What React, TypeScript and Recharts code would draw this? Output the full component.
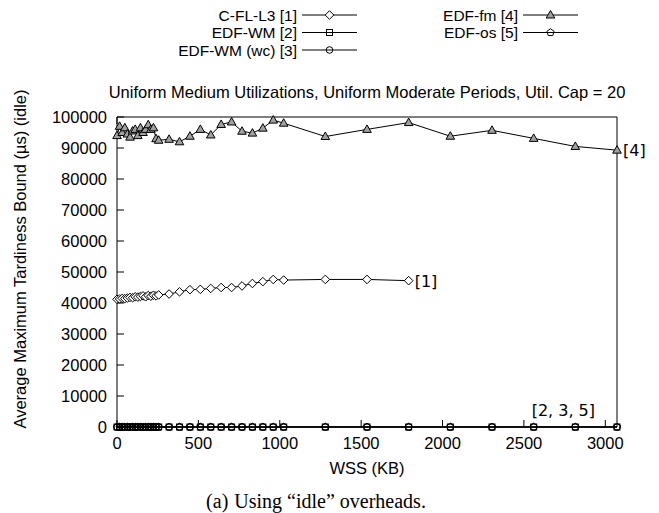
import React from "react";
import { LineChart, Line, XAxis, YAxis, LabelList } from "recharts";

// WSS sizes (KB) sampled by the experiment
const wss = [
  0, 16, 32, 48, 64, 80, 96, 112, 128, 144, 160, 176, 192, 208, 224, 240, 256,
  320, 384, 448, 512, 576, 640, 704, 768, 832, 896, 960, 1024,
  1280, 1536, 1792, 2048, 2304, 2560, 2816, 3072,
];

// C-FL-L3 stops at 1792 KB
const cflL3 = [
  41200, 41300, 41500, 41400, 41600, 41800, 41700, 42000, 41900, 42100, 42300, 42000, 42400, 42200, 42500, 42300, 42600,
  42900, 43600, 44300, 44400, 44700, 45000, 45000, 45500, 46300, 46900, 47600, 47400,
  47600, 47600, 47200,
];

const edfWm = [
  0, 0, 0, 0, 0, 0, 0, 0, 0, 0, 0, 0, 0, 0, 0, 0, 0,
  0, 0, 0, 0, 0, 0, 0, 0, 0, 0, 0, 0,
  0, 0, 0, 0, 0, 0, 0, 0,
];

const edfWmWc = [
  0, 0, 0, 0, 0, 0, 0, 0, 0, 0, 0, 0, 0, 0, 0, 0, 0,
  0, 0, 0, 0, 0, 0, 0, 0, 0, 0, 0, 0,
  0, 0, 0, 0, 0, 0, 0, 0,
];

const edfFm = [
  94000, 97000, 95000, 96500, 94500, 93500, 95500, 96000, 94000, 96500, 95000, 96000, 97500, 96000, 96500, 93000, 92500,
  92800, 92000, 93800, 96000, 94200, 97600, 98400, 95400, 94800, 96400, 99000, 98000,
  93700, 96000, 98200, 93800, 95700, 93100, 90500, 89300,
];

const edfOs = [
  0, 0, 0, 0, 0, 0, 0, 0, 0, 0, 0, 0, 0, 0, 0, 0, 0,
  0, 0, 0, 0, 0, 0, 0, 0, 0, 0, 0, 0,
  0, 0, 0, 0, 0, 0, 0, 0,
];

const seriesNames = ["C-FL-L3 [1]", "EDF-WM [2]", "EDF-WM (wc) [3]", "EDF-fm [4]", "EDF-os [5]"];
const xTicks = [0, 500, 1000, 1500, 2000, 2500, 3000];
const yTicks = [0, 10000, 20000, 30000, 40000, 50000, 60000, 70000, 80000, 90000, 100000];

const data = wss.map((w, i) => ({
  wss: w,
  cfl: i < cflL3.length ? cflL3[i] : null,
  wm: edfWm[i],
  wmwc: edfWmWc[i],
  fm: edfFm[i],
  os: edfOs[i],
}));

const SANS = '"Liberation Sans", Arial, Helvetica, sans-serif';
const MONO = '"DejaVu Sans", sans-serif';
const FS = 16.5;
const TICK = 7;

type M = { cx: number; cy: number };

const Diamond = ({ cx, cy }: M) => (
  <polygon
    points={`${cx},${cy - 4.3} ${cx + 4.3},${cy} ${cx},${cy + 4.3} ${cx - 4.3},${cy}`}
    fill="#fff"
    stroke="#000"
    strokeWidth={1}
  />
);
const Square = ({ cx, cy }: M) => (
  <rect x={cx - 3} y={cy - 3} width={6} height={6} fill="none" stroke="#000" strokeWidth={1} />
);
const Circle = ({ cx, cy }: M) => <circle cx={cx} cy={cy} r={3.3} fill="none" stroke="#000" strokeWidth={1} />;
const Triangle = ({ cx, cy }: M) => (
  <polygon
    points={`${cx},${cy - 4.5} ${cx + 4.3},${cy + 3} ${cx - 4.3},${cy + 3}`}
    fill="#a0a0a0"
    stroke="#000"
    strokeWidth={1}
  />
);
const Pentagon = ({ cx, cy }: M) => {
  const pts = [0, 1, 2, 3, 4]
    .map((k) => {
      const a = -Math.PI / 2 + (k * 2 * Math.PI) / 5;
      return `${cx + 3.8 * Math.cos(a)},${cy + 3.8 * Math.sin(a)}`;
    })
    .join(" ");
  return <polygon points={pts} fill="none" stroke="#000" strokeWidth={1} />;
};

const markers = [Diamond, Square, Circle, Triangle, Pentagon];

function dotOf(Mk: (p: M) => React.ReactElement) {
  return (p: any) => {
    if (p.cy == null || p.cx == null) return <g key={`n-${p.index}`} />;
    return (
      <g key={`m-${p.index}`}>
        <Mk cx={p.cx} cy={p.cy} />
      </g>
    );
  };
}

// gnuplot style: ticks point into the plot on all four sides
const BottomTick = (p: any) => (
  <g>
    <line x1={p.x} x2={p.x} y1={p.y} y2={p.y - TICK} stroke="#000" />
    <text x={p.x} y={p.y + 22} textAnchor="middle" fontFamily={SANS} fontSize={FS} fill="#000">
      {p.payload.value}
    </text>
  </g>
);
const TopTick = (p: any) => <line x1={p.x} x2={p.x} y1={p.y} y2={p.y + TICK} stroke="#000" />;
const LeftTick = (p: any) => (
  <g>
    <line x1={p.x} x2={p.x + TICK} y1={p.y} y2={p.y} stroke="#000" />
    <text x={p.x - 10} y={p.y + 6} textAnchor="end" fontFamily={SANS} fontSize={FS} fill="#000">
      {p.payload.value}
    </text>
  </g>
);
const RightTick = (p: any) => <line x1={p.x} x2={p.x - TICK} y1={p.y} y2={p.y} stroke="#000" />;

const endLabel = (idx: number, txt: string, dx: number, dy: number) => (p: any) =>
  p.index === idx ? (
    <text x={p.x + dx} y={p.y + dy} fontFamily={MONO} fontSize={16} fill="#000">
      {txt}
    </text>
  ) : null;

// legend layout: two columns, text right-aligned before the sample
const legendSlots = [
  { tx: 297, y: 15 },
  { tx: 297, y: 32.5 },
  { tx: 297, y: 50 },
  { tx: 518, y: 15 },
  { tx: 518, y: 32.5 },
];

export default function App() {
  return (
    <div style={{ position: "absolute", left: 0, top: 0, width: 659, height: 513, background: "#fff" }}>
      <LineChart
        width={659}
        height={513}
        data={data}
        margin={{ top: 116, right: 41, bottom: 56, left: 57 }}
      >
        <XAxis
          dataKey="wss"
          type="number"
          domain={[0, 3072]}
          ticks={xTicks}
          interval={0}
          height={30}
          tickSize={0}
          tickMargin={0}
          tickLine={false}
          stroke="#000"
          tick={BottomTick}
        />
        <XAxis
          xAxisId="top"
          orientation="top"
          type="number"
          domain={[0, 3072]}
          ticks={xTicks}
          interval={0}
          height={1}
          tickSize={0}
          tickMargin={0}
          tickLine={false}
          stroke="#000"
          tick={TopTick}
        />
        <YAxis
          type="number"
          domain={[0, 100000]}
          ticks={yTicks}
          interval={0}
          width={60}
          tickSize={0}
          tickMargin={0}
          tickLine={false}
          stroke="#000"
          tick={LeftTick}
        />
        <YAxis
          yAxisId="right"
          orientation="right"
          type="number"
          domain={[0, 100000]}
          ticks={yTicks}
          interval={0}
          width={1}
          tickSize={0}
          tickMargin={0}
          tickLine={false}
          stroke="#000"
          tick={RightTick}
        />
        <Line dataKey="cfl" stroke="#000" strokeWidth={1} dot={dotOf(Diamond)} activeDot={false} isAnimationActive={false}>
          <LabelList dataKey="cfl" content={endLabel(cflL3.length - 1, "[1]", 6, 6)} />
        </Line>
        <Line dataKey="wm" stroke="#000" strokeWidth={1} dot={dotOf(Square)} activeDot={false} isAnimationActive={false} />
        <Line dataKey="wmwc" stroke="#000" strokeWidth={1} dot={dotOf(Circle)} activeDot={false} isAnimationActive={false} />
        <Line dataKey="fm" stroke="#000" strokeWidth={1} dot={dotOf(Triangle)} activeDot={false} isAnimationActive={false}>
          <LabelList dataKey="fm" content={endLabel(wss.length - 1, "[4]", 6, 6)} />
        </Line>
        <Line dataKey="os" stroke="#000" strokeWidth={1} dot={dotOf(Pentagon)} activeDot={false} isAnimationActive={false}>
          <LabelList dataKey="os" content={endLabel(34, "[2, 3, 5]", -2, -11)} />
        </Line>
      </LineChart>

      <svg
        width={659}
        height={513}
        style={{ position: "absolute", left: 0, top: 0, pointerEvents: "none" }}
      >
        {seriesNames.map((name, i) => {
          const s = legendSlots[i];
          const Mk = markers[i];
          const x1 = s.tx + 5;
          const x2 = s.tx + 60;
          return (
            <g key={name}>
              <text x={s.tx} y={s.y + 5.5} textAnchor="end" fontFamily={SANS} fontSize={15.5} fill="#000">
                {name}
              </text>
              <line x1={x1} x2={x2} y1={s.y} y2={s.y} stroke="#000" />
              <Mk cx={(x1 + x2) / 2} cy={s.y} />
            </g>
          );
        })}
        <text x={367} y={98} textAnchor="middle" fontFamily={SANS} fontSize={FS} fill="#000">
          Uniform Medium Utilizations, Uniform Moderate Periods, Util. Cap = 20
        </text>
        <text x={367} y={474} textAnchor="middle" fontFamily={SANS} fontSize={FS} fill="#000">
          WSS (KB)
        </text>
        <text
          transform="rotate(-90)"
          x={-259}
          y={26}
          textAnchor="middle"
          fontFamily={SANS}
          fontSize={FS}
          fill="#000"
        >
          Average Maximum Tardiness Bound (µs) (idle)
        </text>
        <text
          x={316}
          y={508}
          textAnchor="middle"
          fontFamily={'"Liberation Serif", "Times New Roman", serif'}
          fontSize={20}
          fill="#000"
        >
          <tspan>(a)</tspan>
          <tspan dx={6}>Using “idle” overheads.</tspan>
        </text>
      </svg>
    </div>
  );
}
